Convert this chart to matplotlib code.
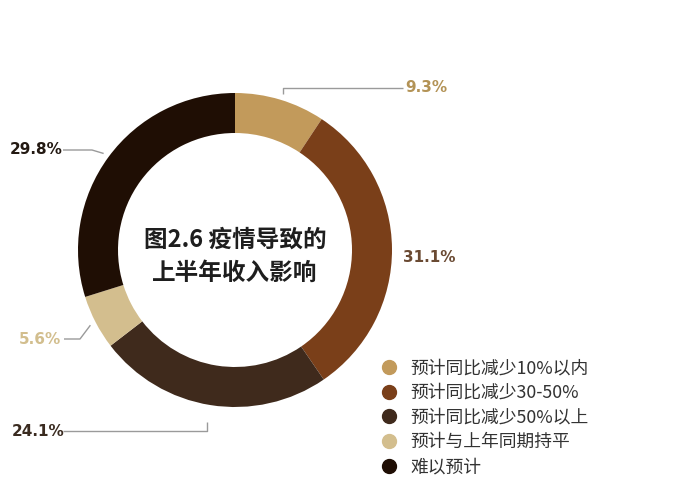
import numpy as np
import matplotlib
matplotlib.use("Agg")
import matplotlib.pyplot as plt
from matplotlib.lines import Line2D

# === Data ===
categories = ["预计同比减少10%以内", "预计同比减少30-50%", "预计同比减少50%以上",
              "预计与上年同期持平", "难以预计"]
shares = [9.3, 31.1, 24.1, 5.6, 29.8]
colors = ["#C29A5B", "#7A3F19", "#3F2A1C", "#D3BE8E", "#1F0E04"]
label_colors = ["#B39356", "#6A4A33", "#3A2B20", "#D2BE8E", "#231912"]
title_lines = ["图2.6 疫情导致的", "上半年收入影响"]

# === Layout (pixel coordinates, y measured from top) ===
W, H = 700, 500
CX, CY, R, RING = 235, 250, 157, 40
# label text position and leader polyline (from label side towards ring)
label_pos = [(426, 88), (429, 257), (38, 431), (40, 339), (36, 150)]
leaders = [
    [(403, 88), (283, 88)],
    [],
    [(63, 431), (207, 431), (207, 422)],
    [(64, 339), (80, 339)],
    [(63, 150), (92, 150)],
]

plt.rcParams['font.family'] = ['Noto Sans CJK SC', 'DejaVu Sans']

fig = plt.figure(figsize=(7, 5), dpi=100)
ax = fig.add_axes([0, 0, 1, 1])
ax.axis('off')


def py(y):
    return H - y


ax.pie(shares, colors=colors, startangle=90, counterclock=False,
       radius=R, center=(CX, py(CY)),
       wedgeprops=dict(width=RING, linewidth=0))
ax.set_xlim(0, W)
ax.set_ylim(0, H)
ax.set_aspect('equal')

# === Leader lines towards the wedge middles ===
cum = np.cumsum([0] + shares[:-1])
for i, s in enumerate(shares):
    pts = leaders[i]
    if not pts:
        continue
    mid = np.deg2rad(90 - (cum[i] + s / 2) / sum(shares) * 360)
    tip = (CX + (R + 6) * np.cos(mid), CY - (R + 6) * np.sin(mid))
    if i in (3, 4):
        pts = pts + [tip]
    elif i == 0:
        pts = pts + [(pts[-1][0], tip[1])]
    xs = [p[0] for p in pts]
    ys = [py(p[1]) for p in pts]
    ax.plot(xs, ys, color="#9a9a9a", lw=1.0, solid_capstyle='butt')

# === Percent labels ===
for i, s in enumerate(shares):
    x, y = label_pos[i]
    ax.text(x, py(y), f"{s}%", ha='center', va='center', fontsize=11,
            fontweight='bold', color=label_colors[i], family='DejaVu Sans')

# === Center title ===
ax.text(CX, py(240), title_lines[0], ha='center', va='center',
        fontsize=17, fontweight='bold', color="#1e1e1e")
ax.text(CX, py(273), title_lines[1], ha='center', va='center',
        fontsize=17, fontweight='bold', color="#1e1e1e")

# === Legend ===
handles = [Line2D([], [], marker='o', ls='none', markersize=10,
                  markerfacecolor=c, markeredgecolor=c) for c in colors]
ax.legend(handles, categories, loc='upper left',
          bbox_to_anchor=(382 / W, 1 - 359 / H), frameon=False,
          fontsize=12.8, handletextpad=0.8, labelspacing=0.38,
          handlelength=0.8, labelcolor="#333333", borderaxespad=0,
          borderpad=0)

fig.savefig("out.png", dpi=100)
